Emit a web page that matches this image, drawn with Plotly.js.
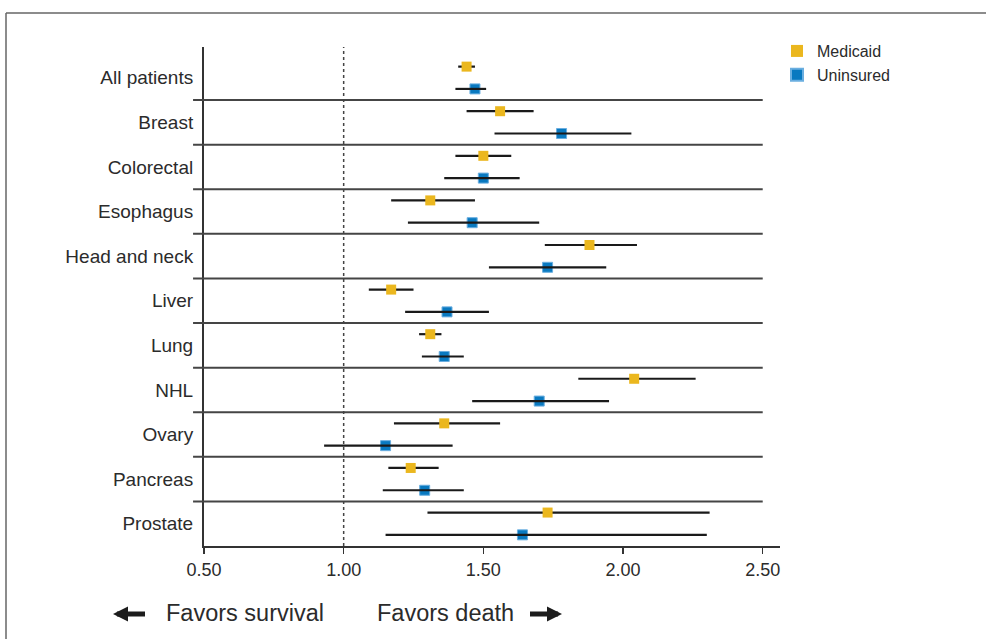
<!DOCTYPE html>
<html>
<head>
<meta charset="utf-8">
<script src="https://cdn.plot.ly/plotly-3.0.1.min.js"></script>
<style>html,body{margin:0;padding:0;background:#fff;}#chart{width:986px;height:639px;}</style>
</head>
<body>
<div id="chart"></div>
<script>
// ---- data (hazard ratios) ----
var categories = ["All patients","Breast","Colorectal","Esophagus","Head and neck","Liver","Lung","NHL","Ovary","Pancreas","Prostate"];
var medicaidHR = [1.44,1.56,1.50,1.31,1.88,1.17,1.31,2.04,1.36,1.24,1.73];
var medicaidLo = [1.41,1.44,1.40,1.17,1.72,1.09,1.27,1.84,1.18,1.16,1.30];
var medicaidHi = [1.47,1.68,1.60,1.47,2.05,1.25,1.35,2.26,1.56,1.34,2.31];
var uninsuredHR = [1.47,1.78,1.50,1.46,1.73,1.37,1.36,1.70,1.15,1.29,1.64];
var uninsuredLo = [1.40,1.54,1.36,1.23,1.52,1.22,1.28,1.46,0.93,1.14,1.15];
var uninsuredHi = [1.51,2.03,1.63,1.70,1.94,1.52,1.43,1.95,1.39,1.43,2.30];
var xTickVals = [0.5,1.0,1.5,2.0,2.5];
var xTickText = ["0.50","1.00","1.50","2.00","2.50"];

var FONT = "Liberation Sans, Arial, Helvetica, sans-serif";
var TXT = "#2b2b2b";
var idx = categories.map(function(_, i){ return i; });
var yMed = idx.map(function(i){ return i - 0.25; });
var yUni = idx.map(function(i){ return i + 0.25; });

function errs(hr, lo, hi){
  return {type:"data", symmetric:false,
    array: hi.map(function(v,i){ return v - hr[i]; }),
    arrayminus: hr.map(function(v,i){ return v - lo[i]; }),
    width:0, thickness:2.2, color:"#1a1a1a"};
}

var traces = [
  {type:"scatter", mode:"markers", name:"Medicaid", x:medicaidHR, y:yMed,
   marker:{symbol:"square", size:10, color:"#EBB71E"},
   error_x: errs(medicaidHR, medicaidLo, medicaidHi), hoverinfo:"x"},
  {type:"scatter", mode:"markers", name:"Uninsured", x:uninsuredHR, y:yUni,
   marker:{symbol:"square", size:10, color:"#0979C0", line:{width:1, color:"#6aaee0"}}, hoverinfo:"x"},
  {type:"scatter", mode:"markers", name:"Uninsured CI", showlegend:false, x:uninsuredHR, y:yUni,
   marker:{size:1, opacity:0},
   error_x: errs(uninsuredHR, uninsuredLo, uninsuredHi), hoverinfo:"skip"}
];

var shapes = [];
for (var i = 0; i < categories.length - 1; i++) {
  shapes.push({type:"line", xref:"paper", yref:"y", x0:-0.019, x1:0.97, y0:i+0.5, y1:i+0.5,
    line:{color:"#454545", width:2}});
}
shapes.push({type:"line", xref:"x", yref:"paper", x0:1, x1:1, y0:0, y1:1,
  line:{color:"#444", width:1.5, dash:"dot"}});
// frame border (top and left)
shapes.push({type:"line", xref:"paper", yref:"paper", x0:-0.34375, x1:1.4, y0:1.0681, y1:1.0681,
  line:{color:"#666", width:1.5}});
shapes.push({type:"line", xref:"paper", yref:"paper", x0:-0.34375, x1:-0.34375, y0:1.0681, y1:-0.25,
  line:{color:"#666", width:1.5}});

var annotations = [
  {xref:"paper", yref:"paper", x:-0.0694, y:-0.1343, xanchor:"left", yanchor:"middle",
   text:"Favors survival", showarrow:false, font:{family:FONT, size:23.5, color:TXT}},
  {xref:"paper", yref:"paper", x:0.2969, y:-0.1343, xanchor:"left", yanchor:"middle",
   text:"Favors death", showarrow:false, font:{family:FONT, size:23.5, color:TXT}},
  {xref:"paper", yref:"paper", x:(562-204)/576, y:(546-614)/499, text:" ", showarrow:true,
   ax:-34, ay:0, arrowhead:2, arrowwidth:5, arrowsize:0.6, arrowcolor:"#1c1c1c", font:{size:4}},
  {xref:"paper", yref:"paper", x:(113-204)/576, y:(546-614)/499, text:" ", showarrow:true,
   ax:34, ay:0, arrowhead:2, arrowwidth:5, arrowsize:0.6, arrowcolor:"#1c1c1c", font:{size:4}}
];

var layout = {
  width:986, height:639,
  margin:{l:204, r:206, t:47, b:93, pad:0},
  paper_bgcolor:"#fff", plot_bgcolor:"#fff",
  font:{family:FONT, color:TXT},
  showlegend:true,
  legend:{x:0.9948, xanchor:"left", y:1.026, yanchor:"top", bgcolor:"rgba(0,0,0,0)",
    font:{family:FONT, size:16, color:TXT}, itemsizing:"constant", tracegroupgap:0},
  xaxis:{range:[0.5, 2.562], showgrid:false, zeroline:false,
    showline:true, linecolor:"#333", linewidth:2,
    ticks:"outside", ticklen:6, tickwidth:1.5, tickcolor:"#333",
    tickvals:xTickVals, ticktext:xTickText,
    tickfont:{family:FONT, size:18, color:TXT}},
  yaxis:{range:[10.5, -0.69], showgrid:false, zeroline:false,
    showline:true, linecolor:"#333", linewidth:2, ticks:"",
    tickvals:idx, ticktext:categories, ticklabelstandoff:5,
    tickfont:{family:FONT, size:19, color:TXT}},
  shapes:shapes,
  annotations:annotations
};

Plotly.newPlot("chart", traces, layout, {displayModeBar:false, staticPlot:true});
</script>
</body>
</html>
